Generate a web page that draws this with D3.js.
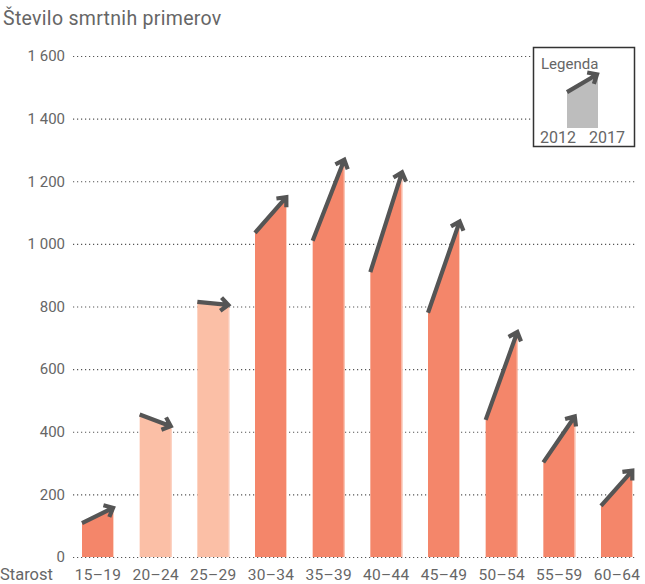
<!DOCTYPE html>
<html>
<head>
<meta charset="utf-8">
<script src="https://cdn.jsdelivr.net/npm/d3@7"></script>
<style>
  body { margin: 0; background: #fff; }
  svg { display: block; font-family: Roboto, "Noto Sans", sans-serif; }
</style>
</head>
<body>
<svg id="chart" width="645" height="584"></svg>
<script>
const categories = ["15–19","20–24","25–29","30–34","35–39","40–44","45–49","50–54","55–59","60–64"];
const values2012 = [108, 455, 815, 1035, 1010, 910, 780, 438, 302, 163];
const values2017 = [152, 410, 798, 1145, 1265, 1225, 1068, 715, 445, 272];
const yTicks = [0, 200, 400, 600, 800, 1000, 1200, 1400, 1600];
const yTickLabels = ["0", "200", "400", "600", "800", "1 000", "1 200", "1 400", "1 600"];
const legendYears = ["2012", "2017"];
const legend2012 = 870;
const legend2017 = 1250;

const svg = d3.select("#chart");
const textColor = "#666";
const arrowColor = "#555";
const upColor = "#f4866a";
const downColor = "#fbbfa6";

const x = d3.scaleBand().domain(categories).range([82, 633]).paddingInner(0.445).paddingOuter(0);
const y = d3.scaleLinear().domain([0, 1600]).range([557, 56]);

// Title
svg.append("text").attr("x", 3).attr("y", 25).attr("font-size", 19.5).attr("letter-spacing", 0.3)
  .attr("fill", textColor).text("Število smrtnih primerov");

// Grid
const yAxis = d3.axisLeft(y).tickValues(yTicks).tickSize(0).tickPadding(0)
  .tickFormat((d, i) => yTickLabels[i]);
const gy = svg.append("g").attr("transform", "translate(65,0)").call(yAxis);
gy.select(".domain").remove();
gy.selectAll("text").attr("font-size", 15).attr("fill", textColor)
  .attr("font-family", "Roboto, 'Noto Sans', sans-serif").attr("dx", 0);
gy.selectAll(".tick").append("line")
  .attr("x1", 8).attr("x2", 571).attr("y1", 0).attr("y2", 0)
  .attr("stroke", "#555").attr("stroke-width", 1.1).attr("stroke-dasharray", "1.2,2.8");

// Bars as polygons
const data = categories.map((c, i) => ({ c, a: values2012[i], b: values2017[i] }));
const bw = x.bandwidth();

svg.append("g").selectAll("path").data(data).join("path")
  .attr("d", d => {
    const x0 = x(d.c), x1 = x0 + bw;
    return `M${x0},${y(0)}L${x0},${y(d.a)}L${x1},${y(d.b)}L${x1},${y(0)}Z`;
  })
  .attr("fill", d => d.b >= d.a ? upColor : downColor);

// light right edge
svg.append("g").selectAll("line").data(data).join("line")
  .attr("x1", d => x(d.c) + bw - 0.5).attr("x2", d => x(d.c) + bw - 0.5)
  .attr("y1", d => y(d.b) + 2).attr("y2", y(0))
  .attr("stroke", "#fcd3c4").attr("stroke-width", 1);

function arrowPath(x0, y0, x1, y1, head) {
  const ang = Math.atan2(y1 - y0, x1 - x0);
  const spread = Math.PI * 0.23;
  const ax1 = x1 - head * Math.cos(ang - spread), ay1 = y1 - head * Math.sin(ang - spread);
  const ax2 = x1 - head * Math.cos(ang + spread), ay2 = y1 - head * Math.sin(ang + spread);
  return `M${x0},${y0}L${x1},${y1}M${ax1},${ay1}L${x1},${y1}L${ax2},${ay2}`;
}

svg.append("g").selectAll("path").data(data).join("path")
  .attr("d", d => {
    const x0 = x(d.c), x1 = x0 + bw;
    const ya = y(d.a), yb = y(d.b);
    const ang = Math.atan2(yb - ya, x1 - x0);
    const ex = x1 - 1 * Math.cos(ang), ey = yb - 1 * Math.sin(ang) - 2;
    return arrowPath(x0, ya, ex, ey, 10);
  })
  .attr("fill", "none").attr("stroke", arrowColor).attr("stroke-width", 4.2)
  .attr("stroke-linejoin", "miter").attr("stroke-linecap", "butt");

// X labels
svg.append("g").selectAll("text").data(categories).join("text")
  .attr("x", d => x(d) + bw / 2).attr("y", 580).attr("text-anchor", "middle")
  .attr("font-size", 15.5).attr("letter-spacing", 0.3).attr("fill", textColor).text(d => d);
svg.append("text").attr("x", 0).attr("y", 580).attr("font-size", 16.5)
  .attr("fill", textColor).text("Starost");

// Legend
const lg = svg.append("g");
lg.append("rect").attr("x", 533.5).attr("y", 47.5).attr("width", 101).attr("height", 99)
  .attr("fill", "#fff").attr("stroke", "#333").attr("stroke-width", 1.5);
lg.append("text").attr("x", 541).attr("y", 69).attr("font-size", 15).attr("fill", textColor).text("Legenda");
const ly = d3.scaleLinear().domain([0, 1600]).range([128, 62]);
const lx0 = 567, lx1 = 598;
lg.append("path")
  .attr("d", `M${lx0},${ly(0)}L${lx0},${ly(legend2012)}L${lx1},${ly(legend2017)}L${lx1},${ly(0)}Z`)
  .attr("fill", "#bdbdbd");
lg.append("path")
  .attr("d", arrowPath(lx0, ly(legend2012), lx1 - 1, ly(legend2017) - 2, 10))
  .attr("fill", "none").attr("stroke", arrowColor).attr("stroke-width", 4.2);
lg.append("text").attr("x", 558).attr("y", 143).attr("text-anchor", "middle")
  .attr("font-size", 16).attr("fill", textColor).text(legendYears[0]);
lg.append("text").attr("x", 607).attr("y", 143).attr("text-anchor", "middle")
  .attr("font-size", 16).attr("fill", textColor).text(legendYears[1]);
</script>
</body>
</html>
